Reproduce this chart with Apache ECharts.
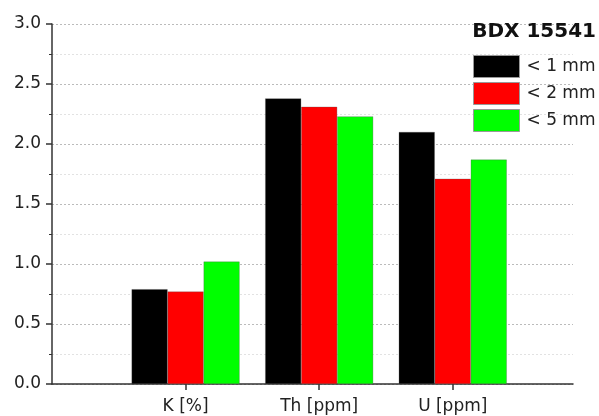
<!DOCTYPE html>
<html>
<head>
<meta charset="utf-8">
<script src="https://cdn.jsdelivr.net/npm/echarts@6/dist/echarts.min.js"></script>
<style>
  html, body { margin: 0; padding: 0; background: #fff; }
  #chart { width: 599px; height: 416px; }
</style>
</head>
<body>
<div id="chart"></div>
<script>
// categories sit at x = 1, 2, 3 on a value axis (empty space left of K)
const categories = ['K [%]', 'Th [ppm]', 'U [ppm]'];
const categoryPos = [1, 2, 3];
const seriesNames = ['< 1 mm', '< 2 mm', '< 5 mm'];
const lt1mm = [0.79, 2.38, 2.10];
const lt2mm = [0.77, 2.31, 1.71];
const lt5mm = [1.02, 2.23, 1.87];
const yTicks = [0, 0.5, 1.0, 1.5, 2.0, 2.5, 3.0];
const colors = ['#000000', '#ff0000', '#00ff00'];

const font = 'DejaVu Sans';

function pairs(vals) {
  return vals.map((v, i) => [categoryPos[i], v]);
}

const chart = echarts.init(document.getElementById('chart'), null, { renderer: 'canvas' });

chart.setOption({
  animation: false,
  backgroundColor: '#fff',
  title: {
    text: 'BDX 15541',
    right: 3,
    top: 22,
    padding: 0,
    textStyle: { fontFamily: font, fontSize: 20, fontWeight: 'bold', color: '#111' }
  },
  legend: {
    orient: 'vertical',
    left: 473,
    top: 55,
    padding: 0,
    itemWidth: 46,
    itemHeight: 22,
    itemGap: 4,
    icon: 'rect',
    data: seriesNames,
    itemStyle: { borderColor: '#999', borderWidth: 1 },
    textStyle: { fontFamily: font, fontSize: 17, color: '#222', padding: [0, 0, 0, 2] }
  },
  grid: { left: 52, right: 26, top: 24, bottom: 32, containLabel: false },
  xAxis: {
    type: 'value',
    min: 0,
    max: 3.9,
    interval: 1,
    splitLine: { show: false },
    axisLine: { show: true, onZero: false, lineStyle: { color: '#333', width: 1.5 } },
    axisTick: { show: true, inside: false, length: 6, customValues: categoryPos, lineStyle: { color: '#333', width: 1.5 } },
    axisLabel: {
      customValues: categoryPos,
      margin: 14,
      fontFamily: font,
      fontSize: 17,
      color: '#222',
      formatter: v => categories[categoryPos.indexOf(v)] || ''
    }
  },
  yAxis: {
    type: 'value',
    min: 0,
    max: 3,
    interval: 0.5,
    axisLine: { show: true, lineStyle: { color: '#333', width: 1.5 } },
    axisTick: { show: true, length: 6, lineStyle: { color: '#333', width: 1.5 } },
    minorTick: { show: true, splitNumber: 2, length: 3, lineStyle: { color: '#333', width: 1 } },
    splitLine: { show: true, lineStyle: { color: '#bbb', type: [2, 2], width: 1 } },
    minorSplitLine: { show: true, lineStyle: { color: '#e2e2e2', type: [2, 2], width: 1 } },
    axisLabel: {
      margin: 11,
      fontFamily: font,
      fontSize: 17,
      color: '#222',
      customValues: yTicks,
      formatter: v => v.toFixed(1)
    }
  },
  series: [lt1mm, lt2mm, lt5mm].map((vals, i) => ({
    name: seriesNames[i],
    type: 'bar',
    barWidth: 36,
    barGap: '0%',
    data: pairs(vals),
    itemStyle: { color: colors[i], borderColor: 'rgba(80,80,80,0.6)', borderWidth: 0.5 }
  }))
});
</script>
</body>
</html>
